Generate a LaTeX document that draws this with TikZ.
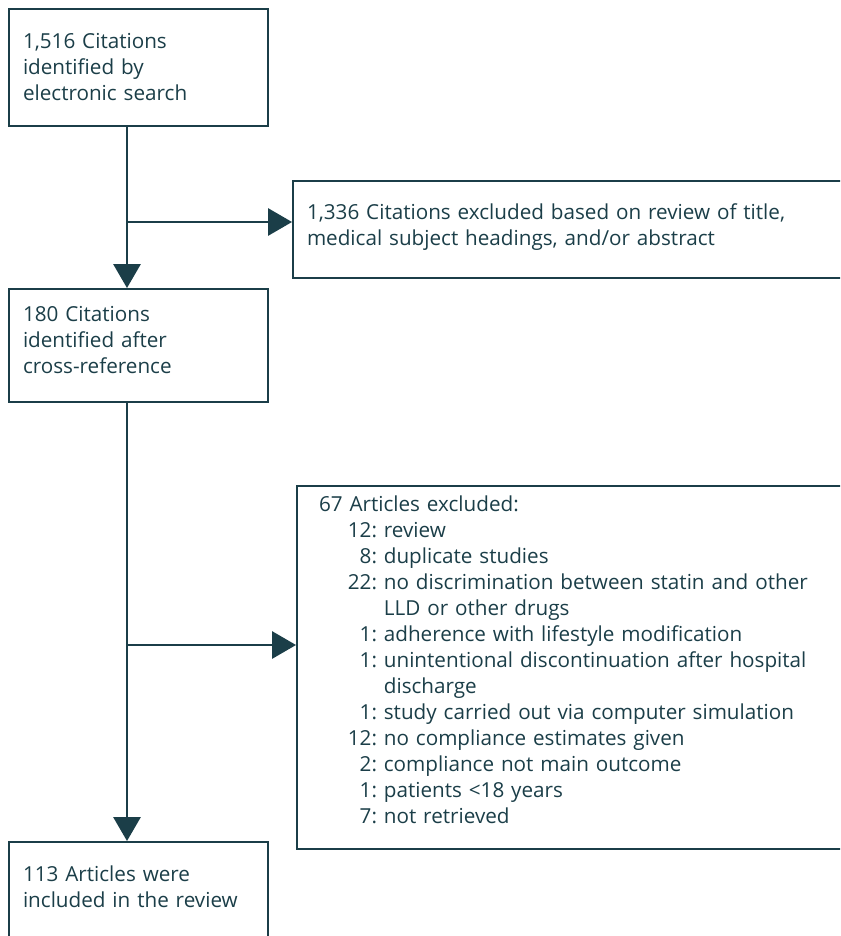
\documentclass[tikz,border=0pt]{standalone}
\usepackage{fontspec}
\setmainfont{Open Sans}
\usetikzlibrary{arrows.meta,positioning}
\definecolor{flow_teal}{RGB}{27,62,72}
\newcommand\exclnum[1]{\makebox[43.5pt][r]{#1:}\ }
\newcommand\exclcont{\hspace*{43.5pt}\ }
\newcommand\padbelow[1]{\par\vspace{#1}\hrule height 0pt}

\begin{document}
\begin{tikzpicture}[x=0.75pt,y=-0.75pt,
    font=\fontsize{15.5}{19.5}\selectfont, text=flow_teal,
    stagebox/.style={draw=flow_teal, line width=1.5pt, anchor=north west,
      align=left, inner xsep=10.5pt, inner ysep=0pt},
    flowline/.style={draw=flow_teal, line width=1.5pt},
    flowarrow/.style={flowline, -{Triangle[length=18pt,width=20.5pt]}}]
  \useasboundingbox (0,0) rectangle (840,936);
  \clip (0,0) rectangle (840,936);
  % stages
  \node[stagebox, text width=173.25pt, minimum height=87.75pt] (search) at (8,8)
    {1,516 Citations\\identified by\\electronic search};
  \node[stagebox, text width=397.5pt, minimum height=72.75pt] (excl1) at (292,180)
    {1,336 Citations excluded based on review of title,\\medical subject headings, and/or abstract\padbelow{3pt}};
  \node[stagebox, text width=173.25pt, minimum height=84.75pt] (screen) at (8,288)
    {180 Citations\\identified after\\cross-reference\padbelow{7.5pt}};
  \node[stagebox, inner xsep=16.5pt, text width=400pt, minimum height=272.25pt] (excl2) at (296,485)
    {67 Articles excluded:\\
     \exclnum{12}review\\
     \exclnum{8}duplicate studies\\
     \exclnum{22}no discrimination between statin and other\\
     \exclcont LLD or other drugs\\
     \exclnum{1}adherence with lifestyle modification\\
     \exclnum{1}unintentional discontinuation after hospital\\
     \exclcont discharge\\
     \exclnum{1}study carried out via computer simulation\\
     \exclnum{12}no compliance estimates given\\
     \exclnum{2}compliance not main outcome\\
     \exclnum{1}patients <18 years\\
     \exclnum{7}not retrieved\padbelow{12pt}};
  \node[stagebox, text width=173.25pt, minimum height=75pt] (incl) at (8,841)
    {113 Articles were\\included in the review\padbelow{7.5pt}};
  % flow
  \coordinate (split1) at (127,222);
  \coordinate (split2) at (127,645);
  \draw[flowarrow] (search.south -| split1) -- (screen.north -| split1);
  \draw[flowarrow] (split1) -- (split1 -| excl1.west);
  \draw[flowarrow] (screen.south -| split2) -- (incl.north -| split2);
  \draw[flowarrow] (split2) -- (split2 -| excl2.west);
\end{tikzpicture}
\end{document}
